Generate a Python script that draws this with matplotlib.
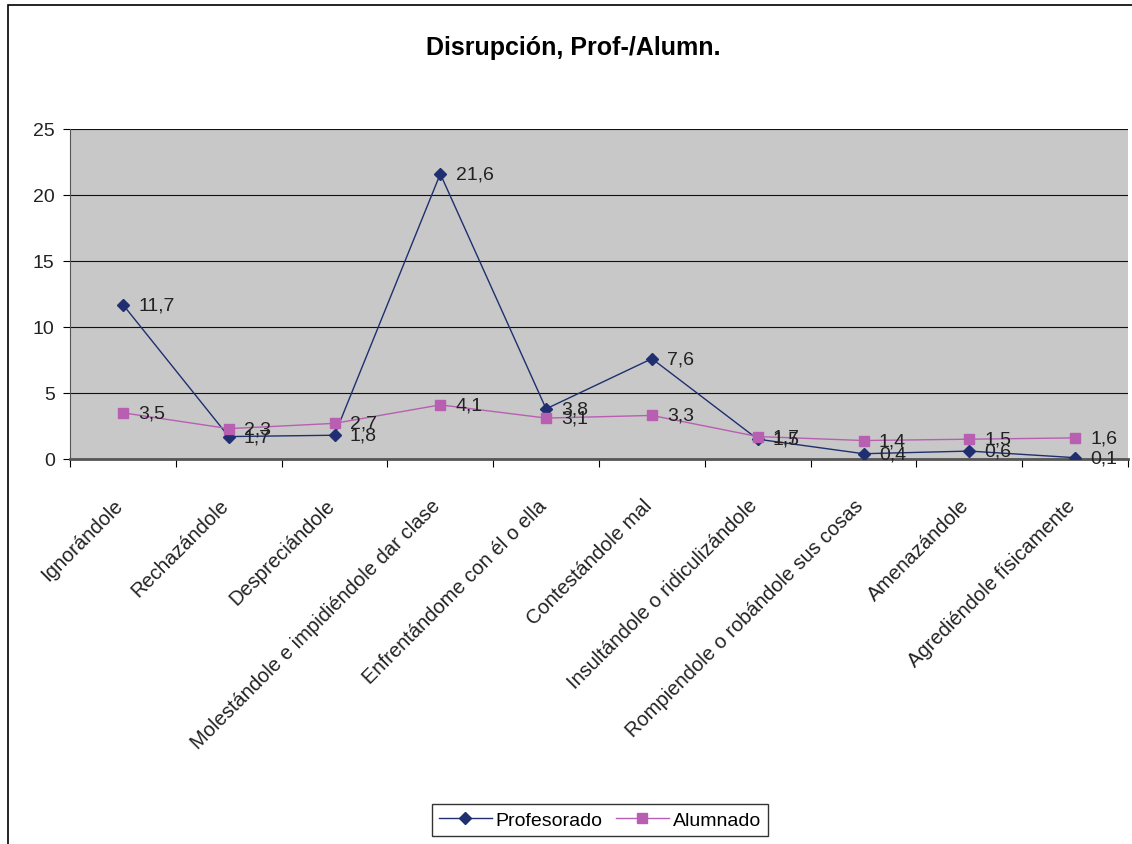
import matplotlib
matplotlib.use("Agg")
from matplotlib import pyplot as plt
from matplotlib.patches import Rectangle

plt.rcParams['font.family'] = ['Liberation Sans', 'DejaVu Sans']

# categories and series
categories = ["Ignorándole", "Rechazándole", "Despreciándole",
              "Molestándole e impidiéndole dar clase", "Enfrentándome con él o ella",
              "Contestándole mal", "Insultándole o ridiculizándole",
              "Rompiendole o robándole sus cosas", "Amenazándole",
              "Agrediéndole físicamente"]
profesorado = [11.7, 1.7, 1.8, 21.6, 3.8, 7.6, 1.5, 0.4, 0.6, 0.1]
alumnado = [3.5, 2.3, 2.7, 4.1, 3.1, 3.3, 1.7, 1.4, 1.5, 1.6]
y_ticks = [0, 5, 10, 15, 20, 25]

prof_color = "#1f2f70"
alum_color = "#b85fb2"
fs = 14

fig = plt.figure(figsize=(11.32, 8.45), dpi=100)
# outer chart border
fig.patches.append(Rectangle((8 / 1132, -0.01), 1.1, 1 - 6 / 845 + 0.01,
                             transform=fig.transFigure, fill=False,
                             edgecolor="black", linewidth=1.2))

ax = fig.add_axes([70 / 1132, 1 - 460 / 845, 1058 / 1132, 330 / 845])
ax.set_facecolor("#c8c8c8")
x = list(range(len(categories)))

ax.plot(x, profesorado, color=prof_color, marker="D", markersize=6,
        linewidth=1, label="Profesorado", zorder=3)
ax.plot(x, alumnado, color=alum_color, marker="s", markersize=7,
        linewidth=1, label="Alumnado", zorder=3)

# data labels, decimal comma
for xi, (p, a) in enumerate(zip(profesorado, alumnado)):
    ax.annotate(str(p).replace(".", ","), (xi, p), xytext=(11, 0),
                textcoords="offset points", va="center", fontsize=fs,
                color="#222222", zorder=4)
    ax.annotate(str(a).replace(".", ","), (xi, a), xytext=(11, 0),
                textcoords="offset points", va="center", fontsize=fs,
                color="#222222", zorder=4)

ax.set_xlim(-0.5, len(categories) - 0.5)
ax.set_ylim(0, 25)
ax.set_yticks(y_ticks)
ax.set_yticklabels([str(t) for t in y_ticks], fontsize=fs, color="#222222")
ax.yaxis.grid(True, color="#111111", linewidth=0.8)
ax.set_axisbelow(True)

ax.set_xticks([i + 0.5 for i in range(-1, len(categories))])
ax.set_xticklabels([])
ax.tick_params(axis="x", length=6, color="black")
ax.tick_params(axis="y", length=5, color="black", pad=6)
for xi, label in enumerate(categories):
    ax.text(xi - 0.09, -0.11, label, transform=ax.get_xaxis_transform(),
            rotation=45, ha="right", va="top", rotation_mode="anchor",
            fontsize=14.5, color="#222222")

for side in ["top", "right"]:
    ax.spines[side].set_visible(False)
ax.spines["left"].set_color("#555555")
ax.spines["bottom"].set_color("#555555")
ax.spines["bottom"].set_linewidth(2)

fig.text(573 / 1132, 1 - 48 / 845, "Disrupción, Prof-/Alumn.", ha="center",
         va="center", fontsize=18, fontweight="bold")

leg = fig.legend(loc="center", bbox_to_anchor=(600 / 1132, 1 - 821 / 845),
                 ncol=2, fontsize=fs, frameon=True, fancybox=False,
                 edgecolor="black", handlelength=2.7, columnspacing=0.7,
                 handletextpad=0.2, borderpad=0.35)
leg.get_frame().set_linewidth(1)

fig.savefig("out.png", dpi=100)
